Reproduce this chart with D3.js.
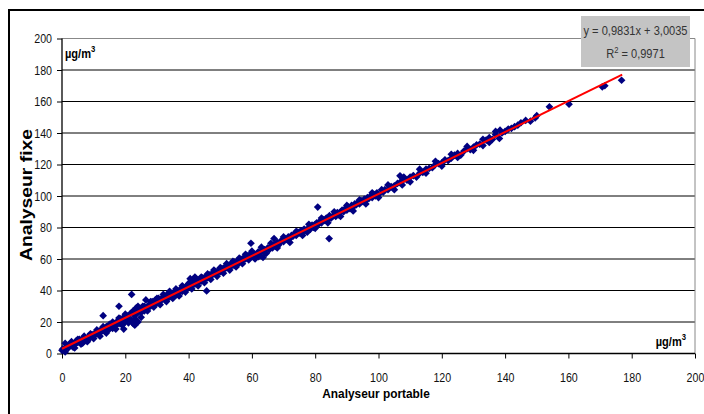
<!DOCTYPE html>
<html><head><meta charset="utf-8">
<script src="https://cdn.jsdelivr.net/npm/d3@7"></script>
<style>
html,body{margin:0;padding:0;background:#fff;}
svg{display:block;}
text{font-family:"Liberation Sans",Arial,sans-serif;}
.b{font-weight:bold;}
</style></head>
<body>
<svg id="c" width="704" height="414"></svg>
<script>
// Tick values for both axes
const xTicks = [0,20,40,60,80,100,120,140,160,180,200];
const yTicks = [0,20,40,60,80,100,120,140,160,180,200];
// Regression
const slope = 0.9831, intercept = 3.0035;
const trendRange = [0, 177];
const eqText = "y = 0,9831x + 3,0035";
const r2Text = " = 0,9971";
// Measured pairs: portable (x), fixe (y) in µg/m3
const px = [0,0.3,0.6,1,1.5,2,2.5,3,3.5,4,4.5,5,5.5,6,6.5,7,7.5,8,8.5,9,9.5,10,10.5,
11,11.5,12,12.5,13,13,13.5,14,14.5,15,15.5,16,16.5,17,17.5,18,18,18.5,19,19.5,19.5,20,20.5,
21,21.5,22,22,22.5,22.5,23,23,23.5,23.5,24,24,24.5,25,25.5,26,26.5,27,27.5,28,28.5,29,29.5,30,30.5,
31,31.5,32,32.5,33,33.5,34,34.5,35,35.5,36,36.5,37,37.5,38,38.5,39,39.5,40,40.5,
41,41.5,42,42,42.5,43,43.5,44,44.5,45,45.7,45.5,46,46.5,47,47.5,48,48.5,49,49.5,50,
50.5,51,51.5,52,52.5,53,53.5,54,54.5,55,55.5,56,56.5,57,57.5,58,58.5,59,59.7,59.5,60,60,
61,61.5,62,62.5,63,63.5,64,64.5,65,65.5,66,66.5,67,67,67.5,68,68.5,69,69.5,70,
70.5,71,71.5,72,72.5,73,73.5,74,74.5,75,75.5,76,76.5,77,77.5,78,78.5,79,79.5,80,
80.8,80.5,81,81.5,82,82.5,83,83.5,84,84.4,84.5,85,85.5,86,86.5,87,87.5,88,88.5,89,89.5,90,
90.5,91,91.5,92,92.5,93,93.5,94,94.5,95,95.5,96,96.5,97,97.5,98,98.5,99,99.5,100,101,
101.5,102,103,104,105,106,106.8,107,107.5,108,109,110,111,112,113,114,115,116,117,118,119,120,
121,122,123,124,125,126,127,128,129,130,131,132,133,134,135,136,137,138.2,138.4,139,140,
141,142,143,144,145,146.5,148,149.5,150,154,160.2,170.7,171.5,176.8,
1,2,3,4,5,6,7,8,9,10,11,12,13,14,15,16,17,18,19,20,21,22,23,24,25,26,27,28,29,30,
31,32,33,34,35,36,37,38,39,40,41,42,43,44,45,46,47,48,49,50,51,52,53,54,55,56,57,58,59,60,
62,63,64,66,68,70,72,74,76,78,80,82,84,86,88,90,92,94,96,98,100,
103,105,108,110,113,115,118,120,123,125,128,130,133,135,137];
const py = [2,3,2.5,6.5,4,5,6,7.5,4,5.5,8,7,9,8,6.5,9.5,10,9,11,10,12,11.5,13,
12.5,14,13,15.5,24,15,14,17,16,18.5,17,16,19,18,20.5,30,19,22,21,15.5,23,20,24,
22,25,37.5,21,19,27,18,24,29,21,26,20,28,23,30,27,34,29,31,30,33,31.5,34,32,35,
33,34.5,36,34,37,35,38,36,37.5,39,37,40,38.5,41,39.5,42,40.5,43,42,47.5,
43,45,48.5,44,46,45,47,46,48,47,39.7,49,48,50,49,51,50.5,52,51,53,52,
54,53,55,54.5,56,55,57,56,58,56.5,59,57.5,60,59,61,60,62,61,70,63,61.5,65,
60,63,64.5,62,65,61,66,63.5,67,66,68,67,73,69,68,70.5,69,71,72,71,
73,72.5,74,73,75,74.5,76,75,77,76.5,78,77,79,78,77,80,79,81.5,80,82,
93,83,82,84,83,85,84.5,86,85,73,87.5,86,87,88,87,89.5,88,90,91,90,92,91,
93,92,94,93,95,94.5,96,95,97,96.5,98,97,99,98.5,100,99,101,100,102,101,104,
102.5,104,104,106,106.5,108,112.8,109,107,110.5,110,112,113,112,114.5,115,117,117.5,118,120,120.5,121,
123,122.5,124,126,127,126,128.5,130,129.5,131,132.5,133,132,135.5,137,136,139,136.5,141.8,140,141,
142.5,143,144,145,146.5,148,147.5,149.6,151,156.6,158.3,169.3,170,173.5,
1,3.5,6,3.5,9,6,11,7.5,12.5,9.5,15,11,17,13,15.5,20,15.5,22.5,18,25,19.5,26,22,30,26,30,27,33,29.5,35,
31,37.5,33,39.5,35,41,36.5,43,39,44.5,41,46.5,43,48.5,45,50.5,47,53,49,54.5,51,57,53,58.5,55,60.5,57,63,59.5,64,
61.5,67.5,64,70,67,74,70.5,77.5,75,82,79.5,86,83,90,87,94,90.5,97.5,95,102,99,
107,104,112,109,117,114.5,122,119,126.5,124.5,131.5,129,136,134,141];
const points = px.map((x,i)=>({x:x, y:py[i]}));

const svg = d3.select("#c");
const x = d3.scaleLinear().domain([0,200]).range([62,695]);
const y = d3.scaleLinear().domain([0,200]).range([353.5,38.5]);

function narrow(sel, k){
  sel.each(function(){
    const L = this.getComputedTextLength();
    this.setAttribute("textLength", (L*k).toFixed(1));
    this.setAttribute("lengthAdjust","spacingAndGlyphs");
  });
}

// outer frame
svg.append("path").attr("d","M9,414V10H704").attr("fill","none").attr("stroke","#000").attr("stroke-width",2);

// gridlines
svg.append("g").selectAll("line").data(yTicks.filter(v=>v>0 && v<200)).join("line")
  .attr("x1",x(0)).attr("x2",x(200)).attr("y1",d=>y(d)).attr("y2",d=>y(d))
  .attr("stroke","#000").attr("stroke-width",1);
// plot border top/right
svg.append("path").attr("d",`M${x(0)},${y(200)}H${x(200)}V${y(0)}`).attr("fill","none").attr("stroke","#888").attr("stroke-width",1);

// axes
const yAxis = d3.axisLeft(y).tickValues(yTicks).tickSize(5).tickPadding(5).tickFormat(d3.format("d"));
const gy = svg.append("g").attr("transform",`translate(${x(0)},0)`).call(yAxis);
const xAxis = d3.axisBottom(x).tickValues(xTicks).tickSize(5).tickPadding(14).tickFormat(d3.format("d"));
const gx = svg.append("g").attr("transform",`translate(0,${y(0)})`).call(xAxis);
[gx,gy].forEach(g=>{
  g.select(".domain").attr("stroke","#000").attr("stroke-width",1.3);
  g.selectAll(".tick line").attr("stroke","#000");
  g.selectAll(".tick text").attr("fill","#111").style("font-size","13px")
   .style("font-family",'"Liberation Sans",Arial,sans-serif');
  narrow(g.selectAll(".tick text"), 0.82);
});
gx.select(".domain").attr("d",`M${x(0)},0H${x(200)}`);
gy.select(".domain").attr("d",`M0,${y(0)}V${y(200)}`);

// points
const sym = d3.symbol().type(d3.symbolDiamond2).size(38);
svg.append("g").selectAll("path").data(points).join("path")
  .attr("d",sym).attr("transform",d=>`translate(${x(d.x)},${y(d.y)})`)
  .attr("fill","#000080");

// trend line
svg.append("line")
  .attr("x1",x(trendRange[0])).attr("y1",y(slope*trendRange[0]+intercept))
  .attr("x2",x(trendRange[1])).attr("y2",y(slope*trendRange[1]+intercept))
  .attr("stroke","#ff0000").attr("stroke-width",2);

// unit labels
const unit1 = svg.append("text").attr("class","b").attr("x",65).attr("y",58).style("font-size","13px").attr("fill","#000");
unit1.append("tspan").text("µg/m");
unit1.append("tspan").attr("dy",-6).style("font-size","9px").text("3");
narrow(unit1, 0.85);
const unit2 = svg.append("text").attr("class","b").attr("x",686).attr("y",346).attr("text-anchor","end").style("font-size","13px").attr("fill","#000");
unit2.append("tspan").text("µg/m");
unit2.append("tspan").attr("dy",-6).style("font-size","9px").text("3");
narrow(unit2, 0.85);

// axis titles
const xt = svg.append("text").attr("class","b").attr("x",376).attr("y",398).attr("text-anchor","middle")
  .style("font-size","13.5px").text("Analyseur portable");
narrow(xt, 0.88);
svg.append("text").attr("class","b").attr("transform","translate(32,195) rotate(-90)").attr("text-anchor","middle")
  .style("font-size","16px").attr("textLength",132).attr("lengthAdjust","spacingAndGlyphs").text("Analyseur fixe");

// equation box
svg.append("rect").attr("x",581).attr("y",16).attr("width",109).attr("height",51).attr("fill","#c4c4c4");
svg.append("text").attr("x",635.5).attr("y",35).attr("text-anchor","middle").style("font-size","13px").attr("fill","#333")
  .attr("textLength",104).attr("lengthAdjust","spacingAndGlyphs").text(eqText);
const r2 = svg.append("text").attr("x",635.5).attr("y",58).attr("text-anchor","middle").style("font-size","13px").attr("fill","#333");
r2.append("tspan").text("R");
r2.append("tspan").attr("dy",-5).style("font-size","9px").text("2");
r2.append("tspan").attr("dy",5).text(r2Text);
narrow(r2, 0.85);
</script>
</body></html>
